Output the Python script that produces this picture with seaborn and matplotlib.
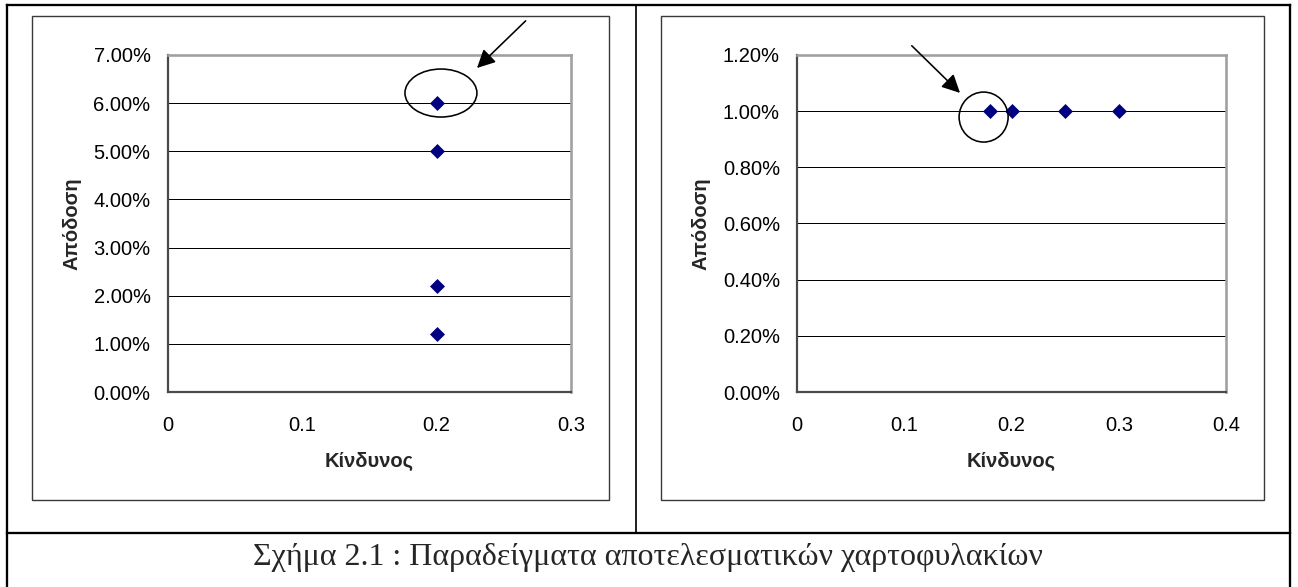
import matplotlib
matplotlib.use("Agg")
import matplotlib.pyplot as plt
import seaborn as sns
import pandas as pd
from matplotlib.lines import Line2D
from matplotlib.patches import Rectangle, Ellipse
from matplotlib.ticker import FuncFormatter, FixedLocator

# ---------------- data ----------------
left_risk = [0.2, 0.2, 0.2, 0.2]
left_return = [6.0, 5.0, 2.2, 1.2]          # percent
right_risk = [0.18, 0.2, 0.25, 0.3]
right_return = [1.0, 1.0, 1.0, 1.0]         # percent

left_xticks = [0, 0.1, 0.2, 0.3]
left_xlabels = ["0", "0.1", "0.2", "0.3"]
left_yticks = [0, 1, 2, 3, 4, 5, 6, 7]
right_xticks = [0, 0.1, 0.2, 0.3, 0.4]
right_xlabels = ["0", "0.1", "0.2", "0.3", "0.4"]
right_yticks = [0, 0.2, 0.4, 0.6, 0.8, 1.0, 1.2]

x_title = "Κίνδυνος"
y_title = "Απόδοση"
caption = "Σχήμα 2.1 : Παραδείγματα αποτελεσματικών χαρτοφυλακίων"

# ---------------- style ----------------
sns.set_style("white")
plt.rcParams['font.family'] = ['Liberation Sans', 'DejaVu Sans']

W, H = 1298, 587
DPI = 100
fig = plt.figure(figsize=(W / DPI, H / DPI), dpi=DPI)
PX = 72.0 / DPI  # points per pixel


def fx(x):
    return x / W


def fy(y):
    return 1 - y / H


def add_axes_px(x0, y0, x1, y1):
    return fig.add_axes([fx(x0), fy(y1), (x1 - x0) / W, (y1 - y0) / H])


def fig_line(x0, y0, x1, y1, lw_px, color="black"):
    fig.add_artist(Line2D([fx(x0), fx(x1)], [fy(y0), fy(y1)],
                          transform=fig.transFigure, color=color,
                          linewidth=lw_px * PX, solid_capstyle="projecting"))


# table borders
fig_line(7, 5, 1289.5, 5, 2.3)
fig_line(7, 5, 7, 587, 2.3)
fig_line(1289.5, 5, 1289.5, 587, 2.3)
fig_line(7, 533, 1289.5, 533, 2.3)
fig_line(636, 5, 636, 533, 1.7)

# chart frames
for (x0, y0, x1, y1) in [(32, 16, 609, 500), (661, 16, 1264, 500)]:
    fig.add_artist(Rectangle((fx(x0), fy(y1)), (x1 - x0) / W, (y1 - y0) / H,
                             transform=fig.transFigure, fill=False,
                             edgecolor="#3a3a3a", linewidth=1.4 * PX))

TICK_FS = 14.5
LABEL_FS = 14.5
pct = FuncFormatter(lambda v, p: f"{v:.2f}%")


def style_axes(ax, xticks, xlabels, yticks, ylabel_x, xlabel_y):
    ax.set_facecolor("white")
    ax.xaxis.set_major_locator(FixedLocator(xticks))
    ax.set_xticklabels(xlabels)
    ax.yaxis.set_major_locator(FixedLocator(yticks))
    ax.yaxis.set_major_formatter(pct)
    ax.grid(False)
    for y in yticks[1:-1]:
        ax.axhline(y, color="black", linewidth=1.0 * PX, zorder=1)
    for side in ["top", "right"]:
        ax.spines[side].set_color("#a0a0a0")
        ax.spines[side].set_linewidth(2.6 * PX)
    for side in ["left", "bottom"]:
        ax.spines[side].set_color("#4a4a4a")
        ax.spines[side].set_linewidth(2.2 * PX)
    ax.tick_params(axis="both", which="major", direction="out",
                   length=7 * PX * 1.0, width=1.4 * PX, color="#3a3a3a",
                   labelsize=TICK_FS, labelcolor="black")
    ax.tick_params(axis="y", pad=10 * PX)
    ax.tick_params(axis="x", pad=17 * PX)
    ax.set_xlabel(x_title, fontsize=LABEL_FS, fontweight="bold", va="center")
    ax.set_ylabel(y_title, fontsize=LABEL_FS, fontweight="bold", va="center")
    ax.xaxis.set_label_coords(0.5, xlabel_y)
    ax.yaxis.set_label_coords(ylabel_x, 0.5)


MS = 15 / 1.414 * PX   # diamond of ~15 px height
S = MS ** 2
NAVY = "#000080"

# ---- left chart ----
axL = add_axes_px(167.5, 55, 571, 392)
dfL = pd.DataFrame({"risk": left_risk, "ret": left_return})
sns.scatterplot(data=dfL, x="risk", y="ret", ax=axL, marker="D", s=S,
                color=NAVY, edgecolor=NAVY, linewidth=0, zorder=5, clip_on=False)
axL.set_xlim(0, 0.3)
axL.set_ylim(0, 7)
style_axes(axL, left_xticks, left_xlabels, left_yticks,
           (72 - 167.5) / (571 - 167.5), (392 - 461) / (392 - 55))
axL.add_patch(Ellipse((0.2033, 6.21), 0.0535, 0.997, fill=False,
                      edgecolor="black", linewidth=1.6 * PX, clip_on=False, zorder=6))
axL.annotate("", xy=(0.2301, 6.73), xytext=(0.2663, 7.71),
             arrowprops=dict(arrowstyle="-|>,head_length=0.5,head_width=0.25",
                             color="black", lw=1.6 * PX, mutation_scale=22,
                             shrinkA=0, shrinkB=0),
             annotation_clip=False)

# ---- right chart ----
axR = add_axes_px(797, 55, 1226, 392)
dfR = pd.DataFrame({"risk": right_risk, "ret": right_return})
sns.scatterplot(data=dfR, x="risk", y="ret", ax=axR, marker="D", s=S,
                color=NAVY, edgecolor=NAVY, linewidth=0, zorder=5, clip_on=False)
axR.set_xlim(0, 0.4)
axR.set_ylim(0, 1.2)
style_axes(axR, right_xticks, right_xlabels, right_yticks,
           (701 - 797) / (1226 - 797), (392 - 461) / (392 - 55))
axR.add_patch(Ellipse((0.174, 0.979), 0.0457, 0.178, fill=False,
                      edgecolor="black", linewidth=1.6 * PX, clip_on=False, zorder=6))
axR.annotate("", xy=(0.152, 1.065), xytext=(0.107, 1.233),
             arrowprops=dict(arrowstyle="-|>,head_length=0.5,head_width=0.25",
                             color="black", lw=1.6 * PX, mutation_scale=22,
                             shrinkA=0, shrinkB=0),
             annotation_clip=False)

# ---- caption ----
cap = fig.text(fx(648), fy(565), caption, ha="center", va="baseline",
               fontsize=21, family=["Liberation Serif", "DejaVu Serif"])
fig.canvas.draw()
w = cap.get_window_extent(renderer=fig.canvas.get_renderer()).width
cap.set_fontsize(21 * 789.0 / w)

fig.savefig("out.png", dpi=DPI)
